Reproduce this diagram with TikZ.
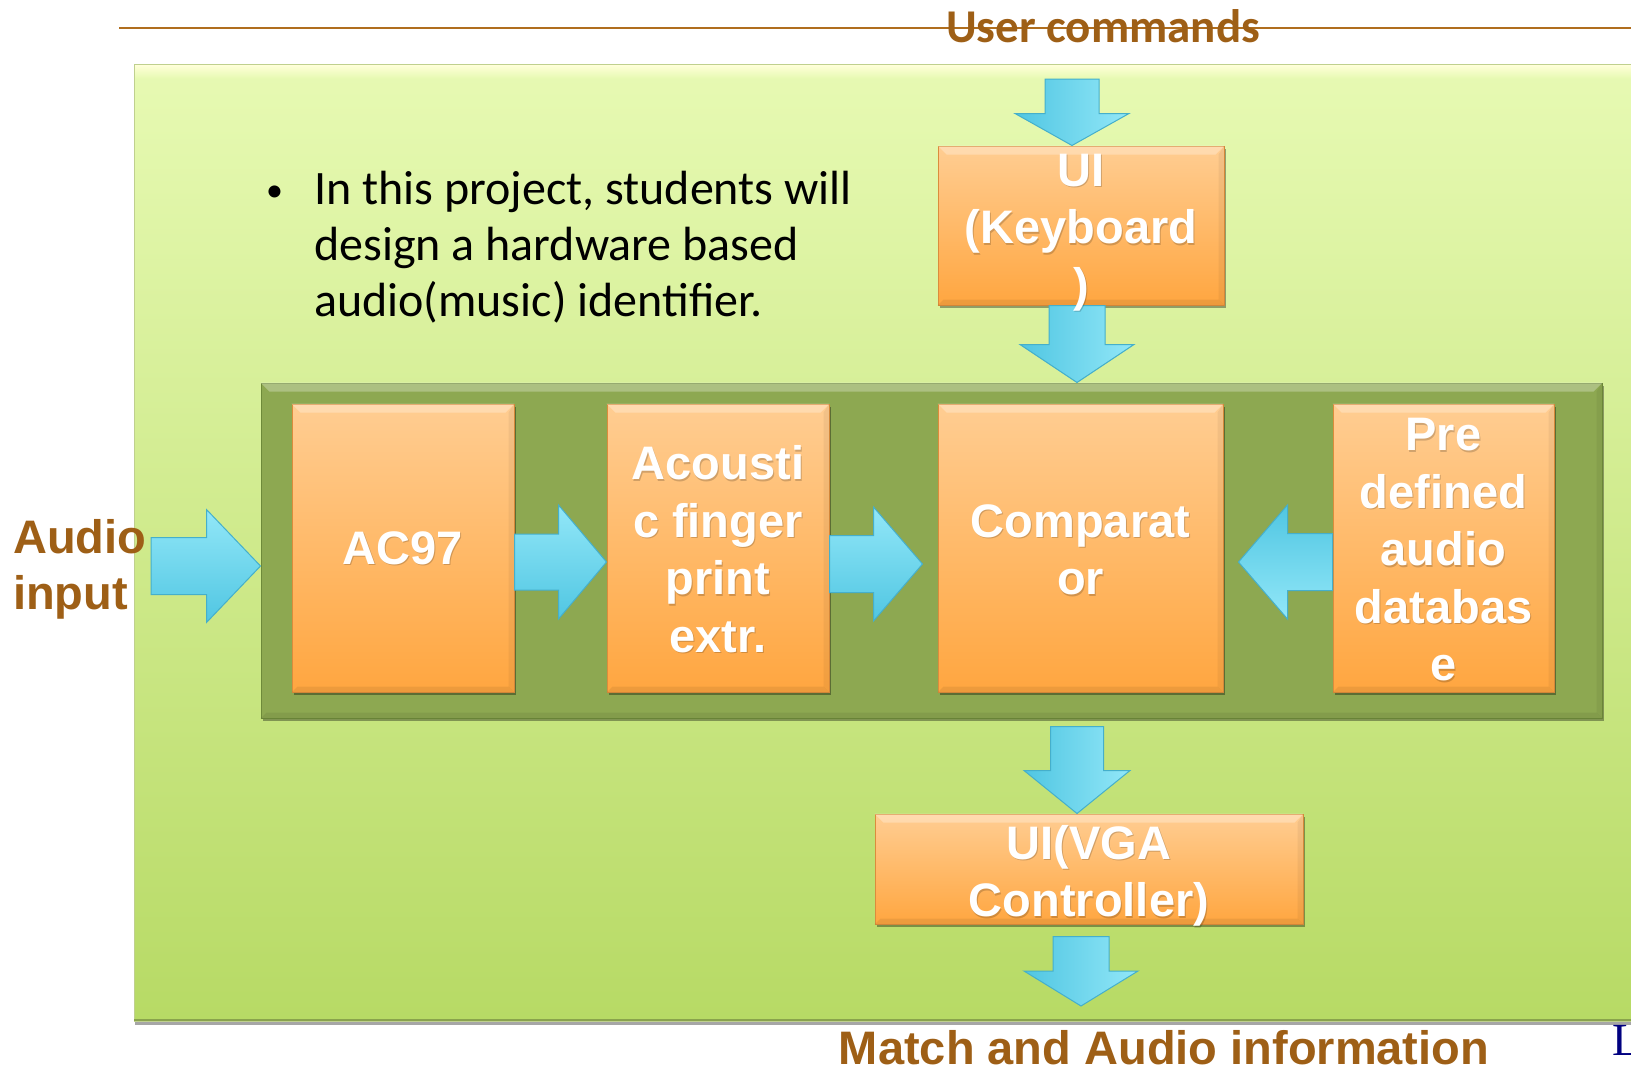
\documentclass[tikz,border=0pt]{standalone}
\usepackage{fontspec}
\setmainfont{Liberation Sans}
\newfontfamily\calibri{Carlito}
\newfontfamily\serifL{Liberation Serif}
\usetikzlibrary{shadows,calc}
\definecolor{brownT}{HTML}{9E5F16}
\definecolor{lineC}{HTML}{B06E1E}
\definecolor{bgTop}{HTML}{E7FAB3}
\definecolor{bgBot}{HTML}{B7DA65}
\definecolor{bgEdge}{HTML}{BFD08E}
\definecolor{panelC}{HTML}{8DA851}
\definecolor{panelD}{HTML}{6E8A3A}
\definecolor{orTop}{HTML}{FFCD92}
\definecolor{orBot}{HTML}{FFA640}
\definecolor{orEdge}{HTML}{DB8C3C}
\definecolor{cyL}{HTML}{92E7F8}
\definecolor{cyD}{HTML}{50C6E2}
\definecolor{cyEdge}{HTML}{45AFCB}
\definecolor{navyL}{HTML}{000080}
\tikzset{
  obox/.style={draw=orEdge, line width=1pt, top color=orTop, bottom color=orBot, inner sep=0pt,
    drop shadow={shadow xshift=2pt, shadow yshift=-3pt, opacity=0.35, fill=black}},
  panelbox/.style={draw=panelD, line width=1pt, fill=panelC, inner sep=0pt,
    drop shadow={shadow xshift=2pt, shadow yshift=-3pt, opacity=0.35, fill=black}},
  btext/.style={text=white, align=center, font=\bfseries\fontsize{47}{57.5}\selectfont, inner sep=0pt},
  bshadow/.style={btext, text=black, text opacity=0.18},
  brownlbl/.style={text=brownT, font=\bfseries\fontsize{47}{56}\selectfont, inner sep=0pt},
  arrR/.style={draw=cyEdge, line width=1pt, top color=cyL, bottom color=cyD},
  arrL/.style={draw=cyEdge, line width=1pt, top color=cyD, bottom color=cyL},
  arrD/.style={draw=cyEdge, line width=1pt, left color=cyD, right color=cyL},
}
% right arrow: #1 tail, #2 tip, #3 shaft half, #4 head half, #5 head length
\newcommand\rarrow[5]{\path[arrR] let \p1=(#1), \p2=(#2) in
  (\x1,\y2+#3) -- (\x2-#5,\y2+#3) -- (\x2-#5,\y2+#4) -- (\x2,\y2) -- (\x2-#5,\y2-#4) -- (\x2-#5,\y2-#3) -- (\x1,\y2-#3) -- cycle;}
\newcommand\larrow[5]{\path[arrL] let \p1=(#1), \p2=(#2) in
  (\x1,\y2+#3) -- (\x2+#5,\y2+#3) -- (\x2+#5,\y2+#4) -- (\x2,\y2) -- (\x2+#5,\y2-#4) -- (\x2+#5,\y2-#3) -- (\x1,\y2-#3) -- cycle;}
\newcommand\darrow[5]{\path[arrD] let \p1=(#1), \p2=(#2) in
  (\x2-#3,\y1) -- (\x2-#3,\y2+#5) -- (\x2-#4,\y2+#5) -- (\x2,\y2) -- (\x2+#4,\y2+#5) -- (\x2+#3,\y2+#5) -- (\x2+#3,\y1) -- cycle;}
\newcommand\bevel[1]{%
  \fill[white, opacity=0.28] (#1.north west) -- (#1.north east) -- ($(#1.north east)+(-9,9)$) -- ($(#1.north west)+(9,9)$) -- cycle;
  \fill[black, opacity=0.07] (#1.south west) -- (#1.south east) -- ($(#1.south east)+(-6,-6)$) -- ($(#1.south west)+(6,-6)$) -- cycle;
  \fill[black, opacity=0.05] (#1.north east) -- (#1.south east) -- ($(#1.south east)+(-6,-6)$) -- ($(#1.north east)+(-6,9)$) -- cycle;}
% #1 box name, #2 vertical offset, #3 text
\newcommand\boxlabel[3]{%
  \node[bshadow] (#1-sh) at ($(#1)+(1,#2+1.5)$) {#3};
  \node[btext] (#1-t) at ($(#1)+(0,#2)$) {#3};}
\begin{document}
\begin{tikzpicture}[x=1pt,y=-1pt]
\useasboundingbox (0,0) rectangle (1631,1069);
\fill[white] (0,0) rectangle (1631,1069);
% top rule
\draw[lineC, line width=2.2pt] (119,28) -- (1640,28);
% green background
\path[draw=bgEdge, line width=1pt, top color=bgTop, bottom color=bgBot,
  drop shadow={shadow xshift=1pt, shadow yshift=-4pt, opacity=0.35, fill=black}] (134,64) rectangle (1700,1021);
\shade[top color=white!85!yellow, bottom color=bgTop] (135,65) rectangle (1700,78);
\draw[bgBot!75!black, line width=1.5pt] (134,1020) -- (1700,1020);
% panel
\node[panelbox, minimum width=1341pt, minimum height=335pt] (panel) at (931.5,550.5) {};
\bevel{panel}
% orange boxes
\node[obox, minimum width=222pt, minimum height=288pt] (ac97) at (403,548) {};
\node[obox, minimum width=222pt, minimum height=288pt] (acoustic) at (718,548) {};
\node[obox, minimum width=285pt, minimum height=288pt] (comp) at (1080.5,548) {};
\node[obox, minimum width=221pt, minimum height=288pt] (pre) at (1443.5,548) {};
\node[obox, minimum width=286pt, minimum height=159pt] (kb) at (1081,225.5) {};
\node[obox, minimum width=428pt, minimum height=110pt] (vga) at (1089,869) {};
\foreach \b in {ac97,acoustic,comp,pre,kb,vga}{\bevel{\b}}
% free ends
\coordinate (ain) at (151,566);
\coordinate (uc) at (1072,79);
\coordinate (mo) at (1081,1006);
% arrows
\rarrow{ain}{panel.west |- ain}{28.5pt}{56.5pt}{54pt}
\coordinate (a2) at ($(ac97.east)+(0,14)$);
\rarrow{a2}{acoustic.west |- a2}{28pt}{57pt}{48pt}
\coordinate (a3) at ($(acoustic.east)+(0,16)$);
\rarrow{a3}{$(comp.west |- a3)+(-15,0)$}{28.5pt}{57pt}{49pt}
\coordinate (a4) at ($(pre.west)+(0,14)$);
\larrow{a4}{$(comp.east |- a4)+(15,0)$}{28.5pt}{57pt}{49pt}
\darrow{uc}{uc |- kb.north}{27pt}{57pt}{32pt}
\coordinate (a6) at ($(kb.south)+(-4,0)$);
\darrow{a6}{a6 |- panel.north}{28pt}{57pt}{38pt}
\coordinate (a7) at ($(vga.north |- panel.south)+(-12,8)$);
\darrow{a7}{a7 |- vga.north}{26.5pt}{53pt}{43pt}
\coordinate (a8) at ($(vga.south)+(-8,12)$);
\darrow{a8}{mo}{28pt}{57pt}{35pt}
% box labels
\boxlabel{ac97}{0}{AC97}
\boxlabel{acoustic}{1}{Acousti\\c finger\\print\\extr.}
\boxlabel{comp}{2}{Comparat\\or}
\boxlabel{pre}{2}{Pre\\defined\\audio\\databas\\e}
\boxlabel{kb}{7}{UI\\(Keyboard\\)}
\boxlabel{vga}{7}{UI(VGA\\Controller)}
% other texts
\node[brownlbl, font=\calibri\bfseries\fontsize{47}{56}\selectfont, anchor=base] (uctext) at (1103,42) {User commands};
\node[brownlbl, align=left, anchor=west] (aintext) at (13,569) {Audio\\input};
\node[brownlbl, anchor=base] (match) at (1164,1064) {Match and Audio information};
\node[anchor=north west, inner sep=0pt, align=left, font=\calibri\fontsize{48}{56}\selectfont] (bullet) at (266,171)
  {\makebox[48pt][l]{\fontsize{34}{34}\selectfont\raisebox{3pt}{•}}In this project, students will\\\hspace*{48pt}design a hardware based\\\hspace*{48pt}audio(music) identifier.};
\node[anchor=base west, inner sep=0pt, text=navyL, font=\serifL\fontsize{46}{50}\selectfont] (lnk) at (1612,1055) {L};
\end{tikzpicture}
\end{document}
